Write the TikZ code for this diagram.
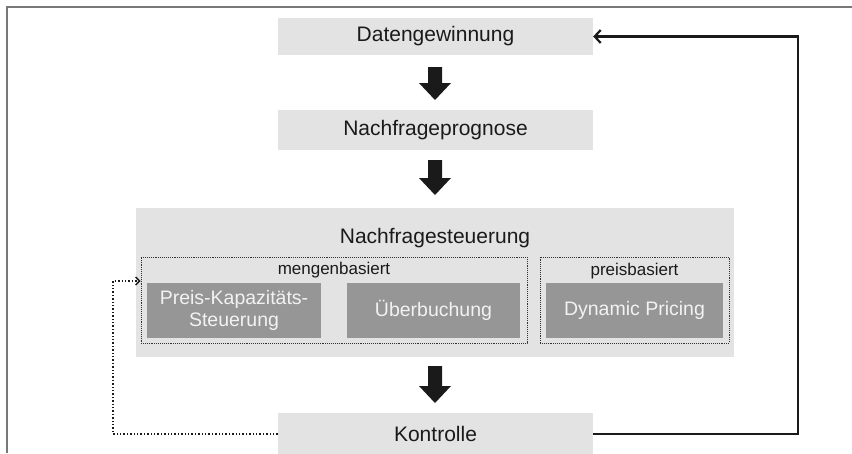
\documentclass[tikz,border=0pt]{standalone}
\usepackage{fontspec}
\setmainfont{Liberation Sans}
\usetikzlibrary{arrows.meta}
\definecolor{boxlight}{HTML}{E3E3E3}
\definecolor{boxdark}{HTML}{969696}
\definecolor{txt}{HTML}{1A1A1A}
\definecolor{framec}{HTML}{787878}
\tikzset{
  px/.style={x=1pt,y=-1pt},
  lightbox/.style={rectangle, fill=boxlight, draw=none, inner sep=0pt, text=txt, font=\fontsize{21}{24}\selectfont},
  darkbox/.style={rectangle, fill=boxdark, draw=none, inner sep=0pt, text=white!95!black, font=\fontsize{19.5}{21.5}\selectfont, align=center},
  groupbox/.style={rectangle, draw=black!80, densely dotted, line width=0.9pt, inner sep=0pt},
  grouplabel/.style={inner sep=0pt, text=txt, font=\fontsize{17}{19}\selectfont},
  fatarrow/.style={fill=txt, draw=none},
  fb/.style={line width=2.4pt, draw=txt, -{Straight Barb[length=6pt,width=13pt,line width=2.2pt]}},
  fbdot/.style={line width=1.4pt, draw=txt, dotted, -{Straight Barb[length=4pt,width=8pt,line width=1.4pt]}}
}
\newcommand{\fatdown}[3]{% x, ytop, ybottom
  \fill[fatarrow] (#1-7,#2) -- (#1+7,#2) -- (#1+7,#3-17) -- (#1+16,#3-17) -- (#1,#3) -- (#1-16,#3-17) -- (#1-7,#3-17) -- cycle;}
\begin{document}
\begin{tikzpicture}[px]
\useasboundingbox (0,0) rectangle (852,453);
\fill[white] (0,0) rectangle (852,453);
\draw[framec, line width=2pt] (7,453) -- (7,7) -- (852,7);

\node[lightbox, minimum width=315pt, minimum height=37pt] (dat) at (435.5,36.5) {Datengewinnung};
\node[lightbox, minimum width=315pt, minimum height=40pt] (prog) at (435.5,130) {Nachfrageprognose};

\node[lightbox, minimum width=598pt, minimum height=149pt] (steu) at (435,282.5) {};
\node[lightbox, fill=none] (steut) at (435,238) {Nachfragesteuerung};

\node[groupbox, minimum width=386pt, minimum height=86pt] (meng) at (334,300) {};
\node[grouplabel] (mengl) at (334,270.5) {mengenbasiert};
\node[groupbox, minimum width=189pt, minimum height=86pt] (preis) at (634.5,300) {};
\node[grouplabel] (preisl) at (634.5,271.5) {preisbasiert};

\node[darkbox, minimum width=174pt, minimum height=55pt] (pks) at (234,310.5) {Preis-Kapazitäts-\\Steuerung};
\node[darkbox, minimum width=173pt, minimum height=55pt] (ueb) at (433.5,310.5) {Überbuchung};
\node[darkbox, minimum width=177pt, minimum height=55pt] (dyn) at (634.5,310.5) {Dynamic Pricing};

\node[lightbox, minimum width=315pt, minimum height=42pt] (kon) at (435.5,434) {Kontrolle};

\fatdown{435}{67}{100}
\fatdown{435}{160}{195}
\fatdown{435}{366}{403}

\coordinate (r1) at (798,434);
\coordinate (r2) at (798,36.5);
\draw[fb] (kon.east) -- (r1) -- (r2) -- (dat.east);

\coordinate (l1) at (113,434);
\coordinate (l2) at (113,281);
\draw[fbdot] (kon.west) -- (l1) -- (l2) -- (meng.west |- l2);
\end{tikzpicture}
\end{document}
